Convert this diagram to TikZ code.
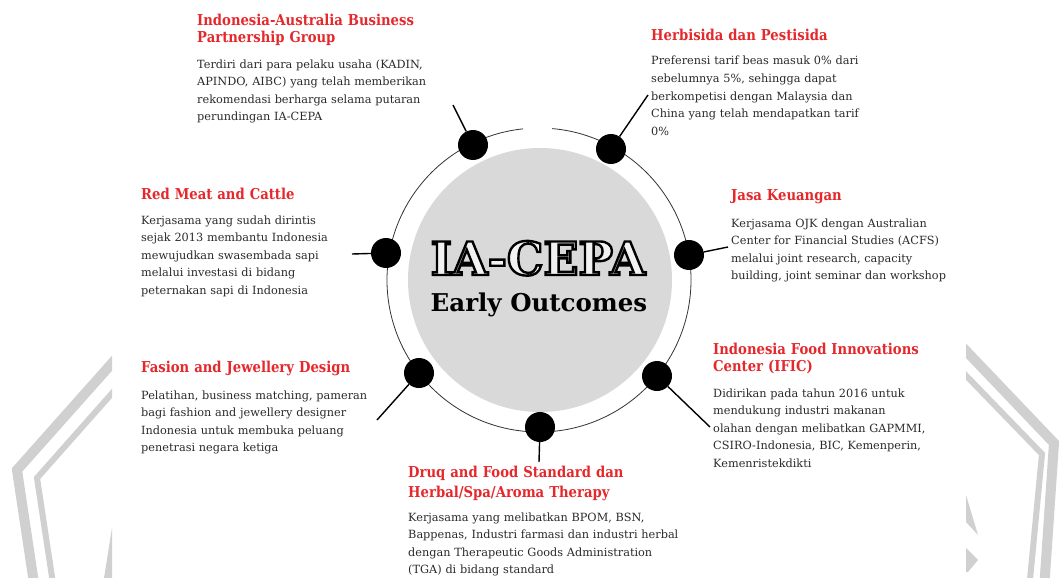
\documentclass[tikz,border=0pt]{standalone}
\usepackage{fontspec}
\setmainfont{DejaVu Serif}
\newfontfamily\headfont[FakeStretch=0.88]{DejaVu Serif}
\usetikzlibrary{positioning}
\definecolor{headred}{HTML}{E5282C}
\definecolor{bodygray}{HTML}{2A2A2A}
\definecolor{coregray}{HTML}{D9D9D9}
\definecolor{markgray}{HTML}{D0D0D0}
\definecolor{hollowfill}{HTML}{F2F2F2}
\newcommand{\hollowtext}[1]{\special{pdf:literal direct 0 G 2 Tr 2.4 w}#1\special{pdf:literal direct 0 Tr 0.4 w}}
\tikzset{
  head/.style={anchor=base west, inner sep=0pt, text width=300pt, align=left,
    text=headred, font=\headfont\bfseries\fontsize{15}{17}\selectfont},
  body/.style={anchor=base west, inner sep=0pt, text width=330pt, align=left,
    text=bodygray, font=\fontsize{11.3}{17.6}\selectfont},
  dot/.style={circle, fill=black, minimum size=30pt, inner sep=0pt},
  link/.style={line width=1.4pt},
  ring/.style={line width=0.8pt, black!80},
  chevron/.style={draw=markgray, miter limit=20},
}
\begin{document}
\begin{tikzpicture}[x=1pt, y=-1pt]
  \useasboundingbox[fill=white] (0,0) rectangle (1060,578);

  \begin{scope}
    \clip (0,0) rectangle (112,578);
    \draw[chevron, line width=10pt] (130,343) -- (17,470) -- (35,590);
    \draw[chevron, line width=6pt] (130,373) -- (37,478) -- (54,590);
    \fill[markgray] (104,578) -- (112,528) -- (112,578) -- cycle;
  \end{scope}
  \begin{scope}
    \clip (966,0) rectangle (1060,578);
    \draw[chevron, line width=10pt] (950,334) -- (1054,443) -- (1044,590);
    \draw[chevron, line width=6pt] (950,359) -- (1042,454) -- (1029,590);
    \fill[markgray] (966,495) -- (978,535) -- (966,522) -- cycle;
    \fill[markgray] (966,548) -- (978,560) -- (968,572) -- (966,572) -- cycle;
  \end{scope}

  \node (core) [circle, fill=coregray, minimum size=264pt, inner sep=0pt] at (540,280) {};
  \draw[ring] (539,280) ++(-85:152) arc[start angle=-85, end angle=264, radius=152];

  \node (d1) [dot] at (473,145) {};
  \node (d2) [dot] at (611,149) {};
  \node (d3) [dot] at (386,253) {};
  \node (d4) [dot] at (689,255) {};
  \node (d5) [dot] at (419,373) {};
  \node (d6) [dot] at (657,376) {};
  \node (d7) [dot] at (540,427) {};
  \coordinate (e1) at (453,105);
  \coordinate (e2) at (648,95);
  \coordinate (e3) at (352,254);
  \coordinate (e4) at (728,247);
  \coordinate (e5) at (377,420);
  \coordinate (e6) at (710,427);
  \coordinate (e7) at (539,462);
  \path[link] (d1) edge (e1)
              (d2) edge (e2)
              (d3) edge (e3)
              (d4) edge (e4)
              (d5) edge (e5)
              (d6) edge (e6)
              (d7) edge (e7)
              ;

  \node (h1) [head] at (197,26) {Indonesia-Australia Business\\Partnership Group};
  \node (b1) [body, below=42pt of h1.base west, anchor=base west]
    {Terdiri dari para pelaku usaha (KADIN,\\APINDO, AIBC) yang telah memberikan\\rekomendasi berharga selama putaran\\perundingan IA-CEPA};
  \node (h2) [head] at (651,41) {Herbisida dan Pestisida};
  \node (b2) [body, below=24pt of h2.base west, anchor=base west]
    {Preferensi tarif beas masuk 0\% dari\\sebelumnya 5\%, sehingga dapat\\berkompetisi dengan Malaysia dan\\China yang telah mendapatkan tarif\\0\%};
  \node (h3) [head] at (731,200) {Jasa Keuangan};
  \node (b3) [body, below=27pt of h3.base west, anchor=base west]
    {Kerjasama OJK dengan Australian\\Center for Financial Studies (ACFS)\\melalui joint research, capacity\\building, joint seminar dan workshop};
  \node (h4) [head] at (141,199) {Red Meat and Cattle};
  \node (b4) [body, below=25pt of h4.base west, anchor=base west]
    {Kerjasama yang sudah dirintis\\sejak 2013 membantu Indonesia\\mewujudkan swasembada sapi\\melalui investasi di bidang\\peternakan sapi di Indonesia};
  \node (h5) [head] at (141,372) {Fasion and Jewellery Design};
  \node (b5) [body, below=27pt of h5.base west, anchor=base west]
    {Pelatihan, business matching, pameran\\bagi fashion and jewellery designer\\Indonesia untuk membuka peluang\\penetrasi negara ketiga};
  \node (h6) [head] at (713,354) {Indonesia Food Innovations\\Center (IFIC)};
  \node (b6) [body, below=43pt of h6.base west, anchor=base west]
    {Didirikan pada tahun 2016 untuk\\mendukung industri makanan\\olahan dengan melibatkan GAPMMI,\\CSIRO-Indonesia, BIC, Kemenperin,\\Kemenristekdikti};
  \node (h7) [head, font=\headfont\bfseries\fontsize{15}{20}\selectfont] at (408,477)
    {Druq and Food Standard dan\\Herbal/Spa/Aroma Therapy};
  \node (b7) [body, below=44pt of h7.base west, anchor=base west]
    {Kerjasama yang melibatkan BPOM, BSN,\\Bappenas, Industri farmasi dan industri herbal\\dengan Therapeutic Goods Administration\\(TGA) di bidang standard};

  \node (sub) [anchor=base, inner sep=0pt, font=\bfseries\fontsize{24.5}{24}\selectfont] at (539,311) {Early Outcomes};
  \node (title) [anchor=base, inner sep=0pt, text=hollowfill, font=\bfseries\fontsize{46}{46}\selectfont] at (538,275) {\hollowtext{IA-CEPA}};
\end{tikzpicture}
\end{document}
